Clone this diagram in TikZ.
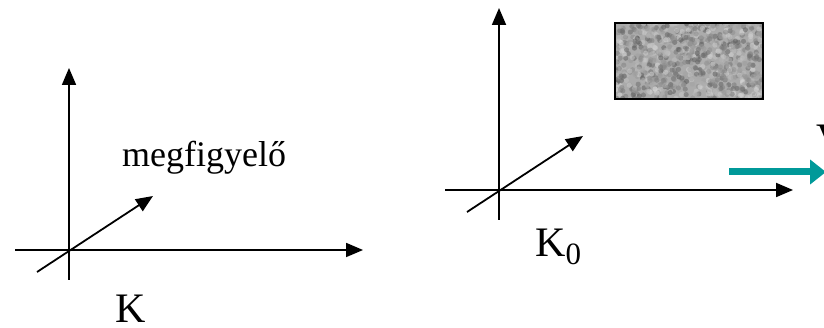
\documentclass[tikz,border=0pt]{standalone}
\usepackage{fontspec}
\setmainfont{Liberation Serif}
\usetikzlibrary{arrows.meta}
\definecolor{velocity}{RGB}{0,153,153}

\begin{document}
\begin{tikzpicture}[
  x=1pt, y=-1pt,
  axis/.style={line width=1.8pt, -{Triangle[length=17pt,width=14pt]}},
  vel/.style={line width=7pt, velocity, -{Triangle[length=16pt,width=24pt]}},
  label/.style={font=\fontsize{42}{48}\selectfont, inner sep=0pt, anchor=base west},
  note/.style={font=\fontsize{36}{43}\selectfont, inner sep=0pt, anchor=base west},
]
\useasboundingbox (0,0) rectangle (824,328);

% ====== OBSERVER FRAME K ======
\coordinate (kxs) at (15,250);  \coordinate (kxe) at (363,250);
\coordinate (kys) at (69,280);  \coordinate (kye) at (69,68);
\coordinate (kzs) at (37,272);  \coordinate (kze) at (153,196);
\draw[axis] (kxs) -- (kxe);
\draw[axis] (kys) -- (kye);
\draw[axis] (kzs) -- (kze);
\node[note] (obs) at (122,167) {megfigyelő};
\node[label] (k) at (115,323) {K};

% ====== MOVING FRAME K0 ======
\coordinate (k0xs) at (445,190); \coordinate (k0xe) at (793,190);
\coordinate (k0ys) at (499,220); \coordinate (k0ye) at (499,8);
\coordinate (k0zs) at (467,212); \coordinate (k0ze) at (583,136);
\draw[axis] (k0xs) -- (k0xe);
\draw[axis] (k0ys) -- (k0ye);
\draw[axis] (k0zs) -- (k0ze);
\node[label] (k0) at (535,257) {K\raisebox{-8pt}{\fontsize{31}{31}\selectfont 0}};

% Body (noisy grey block)
\begin{scope}
  \clip (615,23) rectangle (763,99);
  \fill[black!33] (615,23) rectangle (763,99);
  \pgfmathsetseed{11}
  \foreach \i in {1,...,900} {
    \pgfmathsetmacro\px{615+148*rnd}
    \pgfmathsetmacro\py{23+76*rnd}
    \pgfmathsetmacro\sh{int(15+50*rnd)}
    \fill[black!\sh, opacity=0.55] (\px,\py) circle (2.6);
  }
\end{scope}
\node[draw, line width=1.4pt, minimum width=148pt, minimum height=76pt, inner sep=0pt] (body) at (689,61) {};

% Velocity
\coordinate (vs) at (729,172); \coordinate (ve) at (826,172);
\draw[vel] (vs) -- (ve);
\node[label] (v) at (816,153) {V};

\end{tikzpicture}
\end{document}
